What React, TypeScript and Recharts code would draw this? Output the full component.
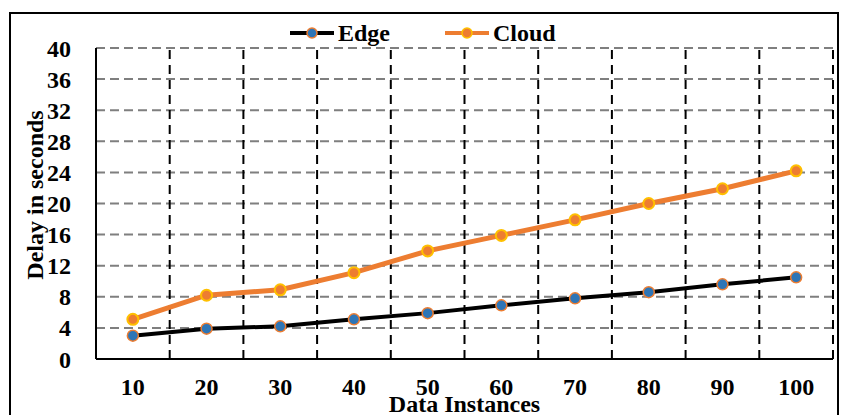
import React from 'react';
import {
  LineChart,
  Line,
  XAxis,
  YAxis,
  CartesianGrid,
  ReferenceLine,
} from 'recharts';

const instances = [10, 20, 30, 40, 50, 60, 70, 80, 90, 100];
const edgeDelay = [3.0, 3.9, 4.2, 5.1, 5.9, 6.9, 7.8, 8.6, 9.6, 10.5];
const cloudDelay = [5.1, 8.2, 8.9, 11.1, 13.9, 15.9, 17.9, 20.0, 21.9, 24.2];
const yTicks = [0, 4, 8, 12, 16, 20, 24, 28, 32, 36, 40];
// boundaries between the instance groups
const groupEdges = [15, 25, 35, 45, 55, 65, 75, 85, 95, 105];
const seriesNames = ['Edge', 'Cloud'];

const data = instances.map((x, i) => ({
  x,
  edge: edgeDelay[i],
  cloud: cloudDelay[i],
}));

const FONT = '"Liberation Serif", "Times New Roman", serif';
const FS = 24;
const ORANGE = '#ED7D31';
const BLUE = '#2E75B6';
const GOLD = '#FFC000';

const LegendIcon = ({ line, fill, ring }: { line: string; fill: string; ring: string }) => (
  <svg width={46} height={14} style={{ marginRight: 3 }}>
    <line x1={1} y1={7} x2={45} y2={7} stroke={line} strokeWidth={4} />
    <circle cx={23} cy={7} r={5} fill={fill} stroke={ring} strokeWidth={1.5} />
  </svg>
);

const ChartLegend = () => (
  <div
    style={{
      position: 'absolute',
      top: 19,
      left: 289,
      display: 'flex',
      fontFamily: FONT,
      fontWeight: 'bold',
      fontSize: FS,
      lineHeight: '28px',
      color: '#000',
    }}
  >
    <div style={{ display: 'flex', alignItems: 'center', marginRight: 54 }}>
      <LegendIcon line="#000" fill={BLUE} ring={ORANGE} />
      <span>{seriesNames[0]}</span>
    </div>
    <div style={{ display: 'flex', alignItems: 'center' }}>
      <LegendIcon line={ORANGE} fill={ORANGE} ring={GOLD} />
      <span>{seriesNames[1]}</span>
    </div>
  </div>
);

// rotated axis title, baseline on the right of the glyphs
const YTitle = () => (
  <text
    x={43}
    y={195}
    transform="rotate(-90 43 195)"
    textAnchor="middle"
    fill="#000"
    fontFamily={FONT}
    fontWeight="bold"
    fontSize={FS}
  >
    Delay in seconds
  </text>
);

const App = () => {
  return (
    <div
      style={{
        position: 'absolute',
        left: 0,
        top: 0,
        width: 841,
        height: 415,
        background: '#fff',
        overflow: 'hidden',
      }}
    >
      <div
        style={{
          position: 'absolute',
          left: 9,
          top: 12,
          width: 826,
          height: 420,
          border: '2px solid #000',
        }}
      />
      <div style={{ position: 'absolute', left: 0, top: 0 }}>
        <LineChart
          width={841}
          height={415}
          data={data}
          margin={{ top: 48, right: 8, left: 10, bottom: 0 }}
        >
          <CartesianGrid
            vertical={false}
            stroke="#7F7F7F"
            strokeWidth={2}
            strokeDasharray="9 5"
          />
          {groupEdges.map((g) => (
            <ReferenceLine
              key={g}
              x={g}
              stroke="#000"
              strokeWidth={2}
              strokeDasharray="9 6"
            />
          ))}
          <XAxis
            dataKey="x"
            type="number"
            domain={[5, 105]}
            ticks={instances}
            height={56}
            axisLine={{ stroke: '#000', strokeWidth: 2 }}
            tickLine={false}
            tickMargin={13}
            tick={{ fill: '#000', fontFamily: FONT, fontWeight: 'bold', fontSize: FS }}
            label={{
              value: 'Data Instances',
              position: 'insideBottom',
              offset: 3,
              fill: '#000',
              fontFamily: FONT,
              fontWeight: 'bold',
              fontSize: FS,
            }}
          />
          <YAxis
            domain={[0, 40]}
            ticks={yTicks}
            width={86}
            interval={0}
            axisLine={{ stroke: '#000', strokeWidth: 2 }}
            tickLine={false}
            tickMargin={19}
            tick={{ fill: '#000', fontFamily: FONT, fontWeight: 'bold', fontSize: FS }}
            label={<YTitle />}
          />
          <Line
            type="linear"
            dataKey="edge"
            name={seriesNames[0]}
            stroke="#000"
            strokeWidth={4}
            dot={{ r: 5.5, fill: BLUE, stroke: ORANGE, strokeWidth: 1.5 }}
            isAnimationActive={false}
          />
          <Line
            type="linear"
            dataKey="cloud"
            name={seriesNames[1]}
            stroke={ORANGE}
            strokeWidth={5}
            dot={{ r: 5.5, fill: ORANGE, stroke: GOLD, strokeWidth: 2 }}
            isAnimationActive={false}
          />
        </LineChart>
      </div>
      <ChartLegend />
    </div>
  );
};

export default App;
